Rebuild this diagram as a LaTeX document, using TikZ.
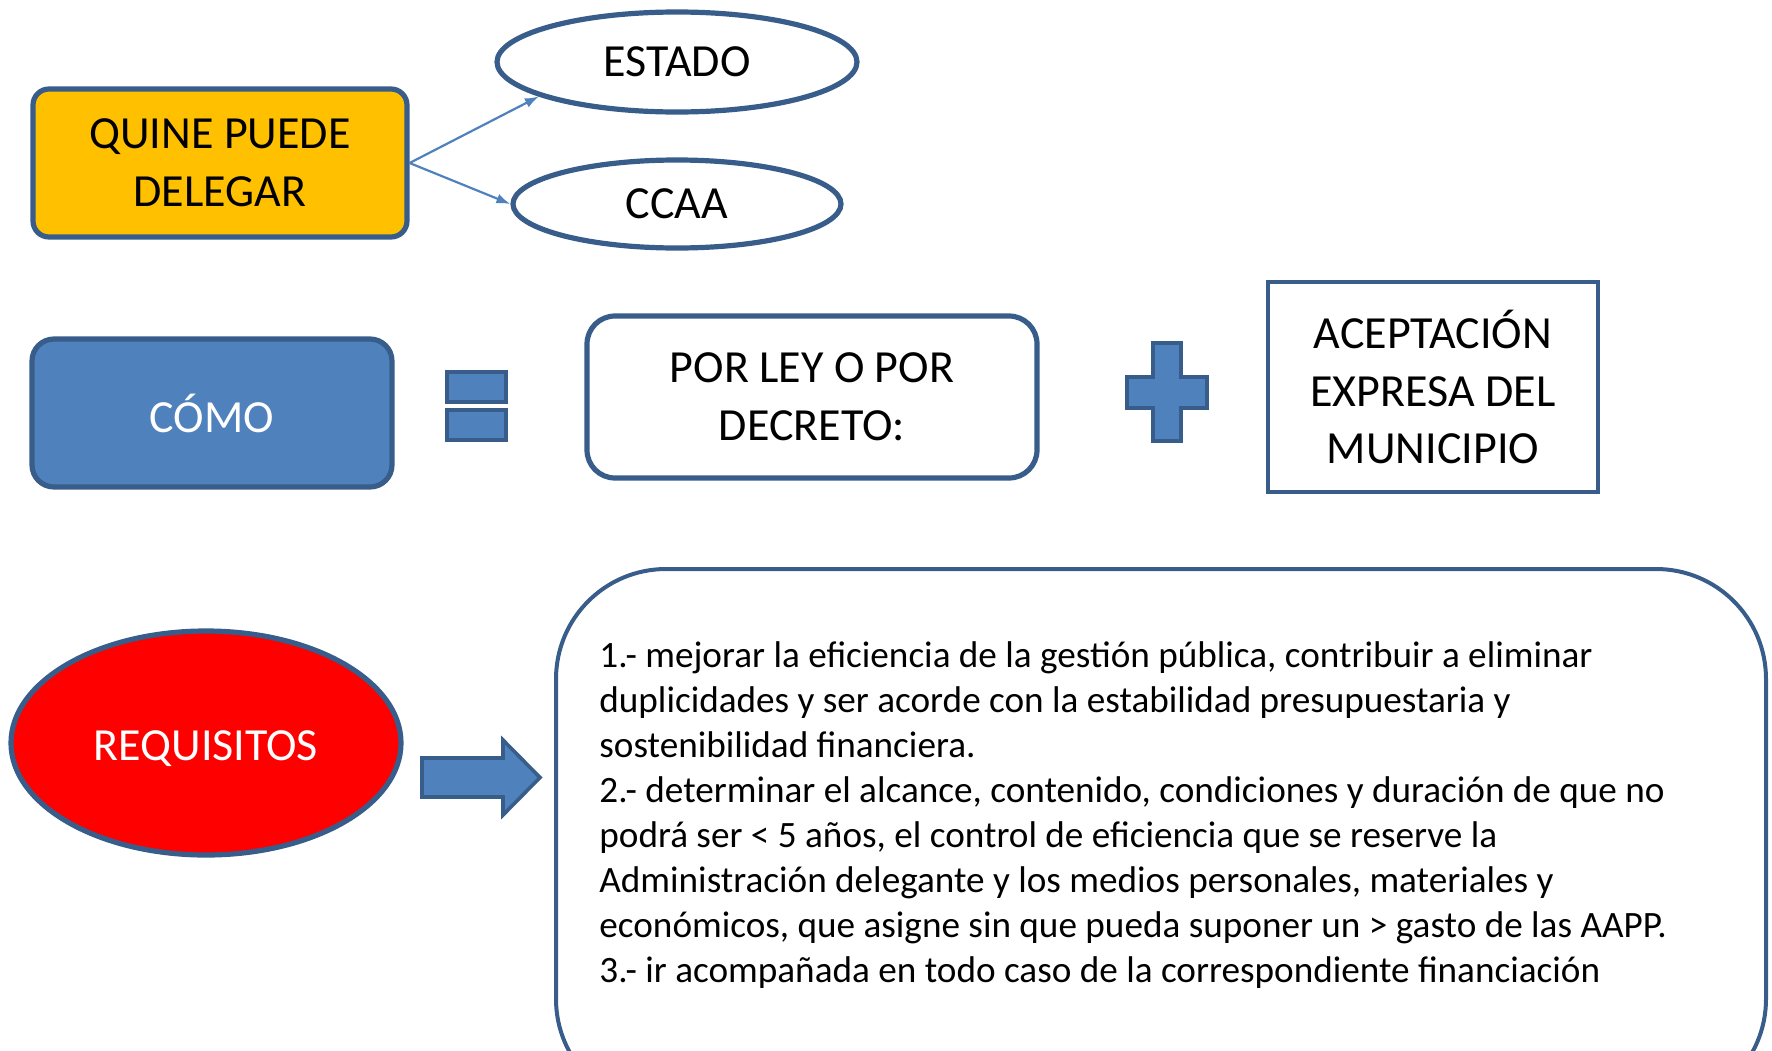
\documentclass[tikz,border=0pt]{standalone}
\usepackage{fontspec}
\setmainfont{Carlito}
\usetikzlibrary{arrows.meta,shapes.geometric}
\definecolor{border}{HTML}{385D8A}
\definecolor{accent}{HTML}{4F81BD}
\definecolor{gold}{HTML}{FFC000}

\begin{document}
\begin{tikzpicture}[x=0.5pt,y=-0.5pt,
  every node/.style={font=\fontsize{23}{28.8}\selectfont, align=center, inner sep=0pt},
  box/.style={draw=border, line width=2.6pt},
  oval/.style={draw=border, line width=2.6pt, ellipse},
  symbol/.style={draw=border, line width=1.8pt, fill=accent},
  link/.style={draw=accent, line width=1.1pt, -{Latex[length=7pt,width=5pt]}}]
\useasboundingbox (0,0) rectangle (1772,1050);
\clip (0,0) rectangle (1772,1050);

% who
\node (quine) [box, rounded corners=8pt, fill=gold, minimum width=187pt, minimum height=74pt]
  at (220,163) {QUINE PUEDE\\DELEGAR};
\node (estado) [oval, minimum width=180pt, minimum height=50pt] at (677,62) {ESTADO};
\node (ccaa) [oval, minimum width=164pt, minimum height=44pt] at (677,204) {CCAA};
\draw[link] (quine.east) -- (estado.194);
\draw[link] (quine.east) -- (ccaa.west);

% how
\node (como) [box, rounded corners=11pt, fill=accent, text=white, minimum width=180pt, minimum height=74pt]
  at (212,413) {CÓMO};
\draw[symbol] (447,372) rectangle (506,402);
\draw[symbol] (447,410) rectangle (506,440);
\node (ley) [box, rounded corners=14pt, fill=white, minimum width=225pt, minimum height=81pt]
  at (812,397) {POR LEY O POR\\DECRETO:};
\draw[symbol] (1153,343) -- (1181,343) -- (1181,377) -- (1207,377) -- (1207,408)
  -- (1181,408) -- (1181,441) -- (1153,441) -- (1153,408) -- (1127,408)
  -- (1127,377) -- (1153,377) -- cycle;
\node (aceptacion) [box, line width=2pt, minimum width=165pt, minimum height=105pt]
  at (1433,387) {ACEPTACIÓN\\EXPRESA DEL\\MUNICIPIO};

% requirements
\node (requisitos) [oval, fill=red, text=white, minimum width=195pt, minimum height=112pt]
  at (206,743) {\raisebox{-3pt}[\height][\depth]{REQUISITOS}};
\draw[symbol] (422,758) -- (503,758) -- (503,740) -- (540,777.5) -- (503,815)
  -- (503,797) -- (422,797) -- cycle;
\node (marco) [box, line width=2pt, rounded corners=55pt, minimum width=605pt, minimum height=270pt]
  at (1161,839) {};
\node (lista) [anchor=west, align=left, font=\fontsize{18.6}{22.45}\selectfont] at (599,815)
{1.- mejorar la eficiencia de la gestión pública, contribuir a eliminar\\
duplicidades y ser acorde con la estabilidad presupuestaria y\\
sostenibilidad financiera.\\
2.- determinar el alcance, contenido, condiciones y duración de que no\\
podrá ser < 5 años, el control de eficiencia que se reserve la\\
Administración delegante y los medios personales, materiales y\\
económicos, que asigne sin que pueda suponer un > gasto de las AAPP.\\
3.- ir acompañada en todo caso de la correspondiente financiación};
\end{tikzpicture}
\end{document}
